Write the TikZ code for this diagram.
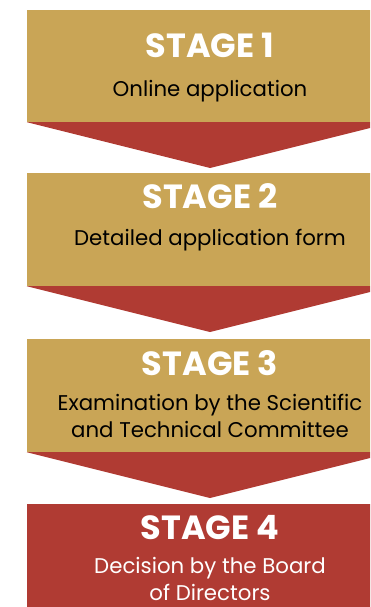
\documentclass[tikz,border=0pt]{standalone}
\usepackage{fontspec}
\setmainfont{Poppins}
\definecolor{gold}{HTML}{C9A556}
\definecolor{brick}{HTML}{B03B33}
\begin{document}
\begin{tikzpicture}[x=1pt,y=-1pt,
  box/.style={rectangle,inner sep=0pt,minimum width=366pt,minimum height=#1,draw=none},
  title/.style={anchor=base,inner sep=0pt,text=white,font=\bfseries\fontsize{33.5}{33.5}\selectfont},
  body/.style={anchor=base,inner sep=0pt,text=black,font=\fontsize{21.3}{27}\selectfont,align=center},
  arrowtri/.style={fill=brick}
]
\useasboundingbox (0,0) rectangle (370,607);
\clip (0,0) rectangle (370,607);
% boxes
\node[box=112pt,fill=gold]  (b1) at (210,66) {};
\node[box=113pt,fill=gold]  (b2) at (210,229.5) {};
\node[box=113pt,fill=gold]  (b3) at (210,395.5) {};
\node[box=112pt,fill=brick] (b4) at (210,560) {};
% arrow tips
\coordinate (p1) at (210,168);
\coordinate (p2) at (210,332);
\coordinate (p3) at (210,498);
\fill[arrowtri] (b1.south west) -- (b1.south east) -- (p1) -- cycle;
\fill[arrowtri] (b2.south west) -- (b2.south east) -- (p2) -- cycle;
\fill[arrowtri] (b3.south west) -- (b3.south east) -- (p3) -- cycle;
% texts
\node[title] (s1) at (210,58) {STAGE 1};
\node[body]  (d1) at (210,96) {Online application};
\node[title] (s2) at (210,208) {STAGE 2};
\node[body]  (d2) at (210,245) {Detailed application form};
\node[title] (s3) at (210,375) {STAGE 3};
\node[body]  (d3) at (210,437) {Examination by the Scientific\\and Technical Committee};
\node[title] (s4) at (210,539) {STAGE 4};
\node[body,text=white] (d4) at (210,600) {Decision by the Board\\of Directors};
\end{tikzpicture}
\end{document}
